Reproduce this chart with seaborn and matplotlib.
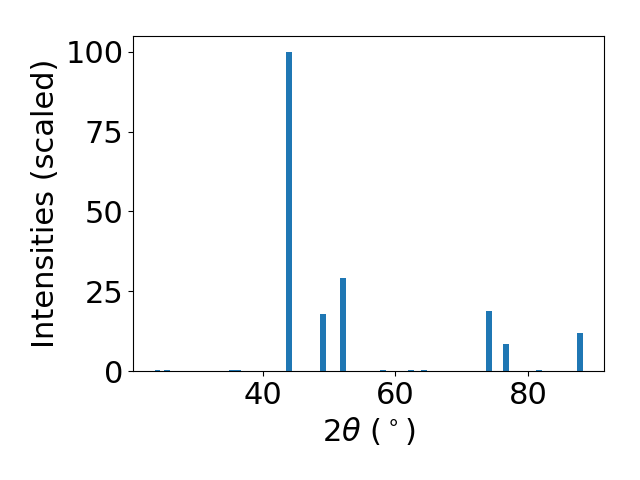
import numpy as np
import pandas as pd
import matplotlib
matplotlib.use("Agg")
import matplotlib.pyplot as plt
import seaborn as sns

two_theta = [24.1, 25.5, 35.3, 36.3, 43.9, 49.0, 52.1, 58.1, 62.3, 64.3, 74.1, 76.6, 81.6, 87.8]
intensity = [0.4, 0.4, 0.4, 0.4, 100.0, 17.9, 29.2, 0.4, 0.4, 0.4, 18.9, 8.5, 0.4, 11.9]

df = pd.DataFrame({"two_theta": two_theta, "intensity": intensity})

fig, ax = plt.subplots(figsize=(6.4, 4.8), dpi=100)
min_gap = np.min(np.diff(sorted(two_theta)))
sns.barplot(data=df, x="two_theta", y="intensity", native_scale=True,
            width=0.9 / min_gap, color="#1f77b4", saturation=1, ax=ax)

ax.set_xlabel(r"$2\theta$ ($^\circ$)", fontsize=22)
ax.set_ylabel("Intensities (scaled)", fontsize=22)
ax.tick_params(labelsize=22)
ax.set_yticks([0, 25, 50, 75, 100])
ax.set_xticks([40, 60, 80])
fig.subplots_adjust(left=0.208, right=0.944, top=0.925, bottom=0.227)
fig.savefig("out.png")
